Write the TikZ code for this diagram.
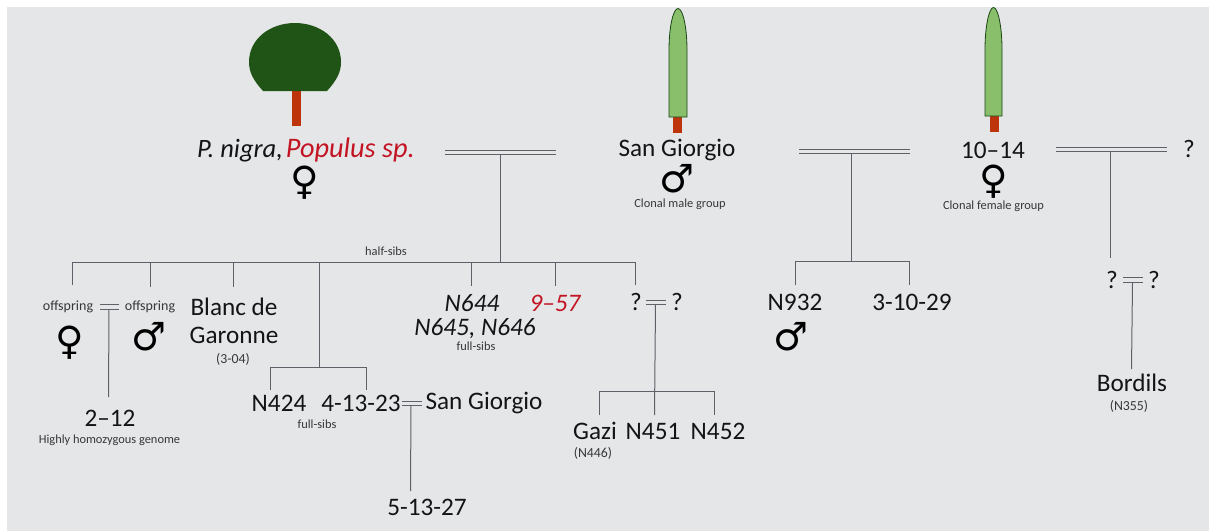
\documentclass[tikz,border=0pt]{standalone}
\usepackage{fontspec}
\setmainfont{Carlito}
\newfontfamily\symfont{DejaVu Sans}
\definecolor{bgc}{RGB}{229,230,231}
\definecolor{linec}{RGB}{95,97,105}
\definecolor{crown}{RGB}{32,84,22}
\definecolor{trunk}{RGB}{190,52,10}
\definecolor{slim}{RGB}{137,190,107}
\definecolor{slimedge}{RGB}{25,70,20}
\definecolor{redtxt}{RGB}{195,20,35}
\definecolor{inkc}{RGB}{20,20,24}
\tikzset{
  x=1pt,y=-1pt,
  conn/.style={draw=linec,line width=1pt},
  big/.style={inner sep=0pt,text=inkc,font=\fontsize{25.2}{28}\selectfont,align=center},
  ital/.style={inner sep=0pt,text=inkc,font=\fontsize{25.2}{28}\selectfont\itshape},
  small/.style={inner sep=0pt,text=inkc!85!white,font=\fontsize{12.4}{14}\selectfont},
  mid/.style={inner sep=0pt,text=inkc!85!white,font=\fontsize{14}{16}\selectfont},
  paren/.style={inner sep=0pt,text=inkc!85!white,font=\fontsize{13.8}{16}\selectfont},
  sex/.style={inner sep=0pt,text=black,font=\symfont\fontsize{39}{39}\selectfont},
}
\begin{document}
\begin{tikzpicture}
\useasboundingbox (0,0) rectangle (1209,531);
\fill[white] (0,0) rectangle (1209,531);
\fill[bgc] (7,7) rectangle (1209,531);
% trees
\fill[trunk] (292,91) rectangle (301,126);
\fill[crown] (263,91) .. controls (253,80) and (249,72) .. (249,62)
  .. controls (249,39) and (270,23) .. (295,23)
  .. controls (320,23) and (341,39) .. (341,62)
  .. controls (341,72) and (337,80) .. (327,91) -- cycle;
\fill[trunk] (673,117) rectangle (682,133);
\filldraw[fill=slim,draw=slimedge,line width=0.8pt] (669,117) -- (669,50) .. controls (669,28) and (673,8.5) .. (678,8.5) .. controls (683,8.5) and (687,28) .. (687,50) -- (687,117) -- cycle;
\fill[trunk] (989.5,115) rectangle (998.5,132);
\filldraw[fill=slim,draw=slimedge,line width=0.8pt] (985,116) -- (985,49) .. controls (985,27) and (989,7.5) .. (993.5,7.5) .. controls (998,7.5) and (1002,27) .. (1002,49) -- (1002,116) -- cycle;
% top labels
\node[ital,anchor=base west,font=\fontsize{26.5}{28}\selectfont\itshape] (pn) at (197,157) {P. nigra,\hspace{3pt}\textcolor{redtxt}{\fontsize{28.3}{28}\selectfont Populus sp.}};
\node[sex] (f1) at (305,183) {♀};
\node[big] (sg) at (677,150) {San Giorgio};
\node[sex] (m1) at (677,179) {♂};
\node[small] (cm) at (680,204) {Clonal male group};
\node[big] (t14) at (993,150) {10–14};
\node[sex] (f2) at (994,182) {♀};
\node[small] (cf) at (993.5,206) {Clonal female group};
\node[big] (q0) at (1189,149) {?};
% marriage bars
\coordinate (a1) at (445,150); \coordinate (a2) at (556,150);
\coordinate (a3) at (445,154); \coordinate (a4) at (556,154);
\draw[conn] (a1) -- (a2) (a3) -- (a4);
\coordinate (amid) at (500,154); \coordinate (abus) at (500,262);
\draw[conn] (amid) -- (abus);
\node[small] (hs) at (386,251) {half-sibs};
\coordinate (bl) at (72,262); \coordinate (br) at (635,262);
\draw[conn] (bl) -- (br);
% offspring row
\coordinate (d1) at (72,285); \coordinate (d2) at (150,287); \coordinate (d3) at (233,287);
\coordinate (d1t) at (72,262); \coordinate (d2t) at (150,262); \coordinate (d3t) at (233,262);
\coordinate (d4t) at (319,262); \coordinate (d4) at (319,367);
\coordinate (d5t) at (471,262); \coordinate (d5) at (471,286);
\coordinate (d6t) at (555,262); \coordinate (d6) at (555,286);
\coordinate (d7t) at (635,262); \coordinate (d7) at (635,285);
\draw[conn] (d1t)--(d1) (d2t)--(d2) (d3t)--(d3) (d4t)--(d4) (d5t)--(d5) (d6t)--(d6) (d7t)--(d7);
\node[mid] (of1) at (68,307) {offspring};
\node[mid] (of2) at (150,307) {offspring};
\node[sex] (f3) at (70,343) {♀};
\node[sex] (m2) at (149,337) {♂};
\coordinate (b1) at (100,304); \coordinate (b2) at (119,304);
\coordinate (b3) at (100,309); \coordinate (b4) at (119,309);
\draw[conn] (b1)--(b2) (b3)--(b4);
\coordinate (bm) at (109,309); \coordinate (be) at (108.5,397);
\draw[conn] (bm)--(be);
\node[big] (n212) at (110,418) {2–12};
\node[small] (hh) at (109.5,440) {Highly homozygous genome};
\node[big] (bdg) at (234,321) {Blanc de\\Garonne};
\node[paren] (b304) at (233,359) {(3-04)};
\coordinate (c1t) at (270,367); \coordinate (c1) at (270,390);
\coordinate (c2t) at (366,367); \coordinate (c2) at (366,390);
\draw[conn] (c1)--(c1t)--(c2t)--(c2);
\node[big] (n424) at (279,403) {N424};
\node[big] (n41323) at (361,403) {4-13-23};
\node[small] (fs1) at (317,424) {full-sibs};
\coordinate (e1) at (402,401); \coordinate (e2) at (422,401);
\coordinate (e3) at (402,405); \coordinate (e4) at (422,405);
\draw[conn] (e1)--(e2) (e3)--(e4);
\node[big] (sg2) at (484,403) {San Giorgio};
\coordinate (em) at (411,405); \coordinate (ee) at (410.5,491);
\draw[conn] (em)--(ee);
\node[big] (n51327) at (427,507) {5-13-27};
\node[ital] (n644) at (472,303) {N644};
\node[ital] (n645) at (475,329) {N645, N646};
\node[small] (fs2) at (476,346) {full-sibs};
\node[ital,text=redtxt] (n957) at (555,303) {9–57};
\node[big] (q1) at (636,302) {?};
\node[big] (q2) at (677,302) {?};
\coordinate (g1) at (646,300); \coordinate (g2) at (666,300);
\coordinate (g3) at (646,304); \coordinate (g4) at (666,304);
\draw[conn] (g1)--(g2) (g3)--(g4);
\coordinate (gm) at (655.5,304); \coordinate (ge) at (654.5,415);
\draw[conn] (gm)--(ge);
\coordinate (h1t) at (599.5,391); \coordinate (h1) at (599.5,415);
\coordinate (h2t) at (714,391); \coordinate (h2) at (714,415);
\draw[conn] (h1)--(h1t)--(h2t)--(h2);
\node[big] (gazi) at (595,431) {Gazi};
\node[big] (n451) at (653,431) {N451};
\node[big] (n452) at (718,431) {N452};
\node[paren] (n446) at (593,453) {(N446)};
% N932 family
\coordinate (i1) at (799,149); \coordinate (i2) at (910,149);
\coordinate (i3) at (799,153); \coordinate (i4) at (910,153);
\draw[conn] (i1)--(i2) (i3)--(i4);
\coordinate (im) at (851,153); \coordinate (ie) at (851,261);
\draw[conn] (im)--(ie);
\coordinate (j1t) at (795,261); \coordinate (j1) at (795,285);
\coordinate (j2t) at (909,261); \coordinate (j2) at (909,285);
\draw[conn] (j1)--(j1t)--(j2t)--(j2);
\node[big] (n932) at (795,302) {N932};
\node[big] (n31029) at (912,302) {3-10-29};
\node[sex] (m3) at (791,337) {♂};
% right family
\coordinate (k1) at (1056,147); \coordinate (k2) at (1167,147);
\coordinate (k3) at (1056,151); \coordinate (k4) at (1167,151);
\draw[conn] (k1)--(k2) (k3)--(k4);
\coordinate (km) at (1110,151); \coordinate (ke) at (1110,258);
\draw[conn] (km)--(ke);
\node[big] (q3) at (1112,280) {?};
\node[big] (q4) at (1154,280) {?};
\coordinate (l1) at (1123,277); \coordinate (l2) at (1143,277);
\coordinate (l3) at (1123,282); \coordinate (l4) at (1143,282);
\draw[conn] (l1)--(l2) (l3)--(l4);
\coordinate (lm) at (1132.5,282); \coordinate (le) at (1131.5,369);
\draw[conn] (lm)--(le);
\node[big] (bord) at (1132,383) {Bordils};
\node[paren] (n355) at (1129,406) {(N355)};
\end{tikzpicture}
\end{document}
